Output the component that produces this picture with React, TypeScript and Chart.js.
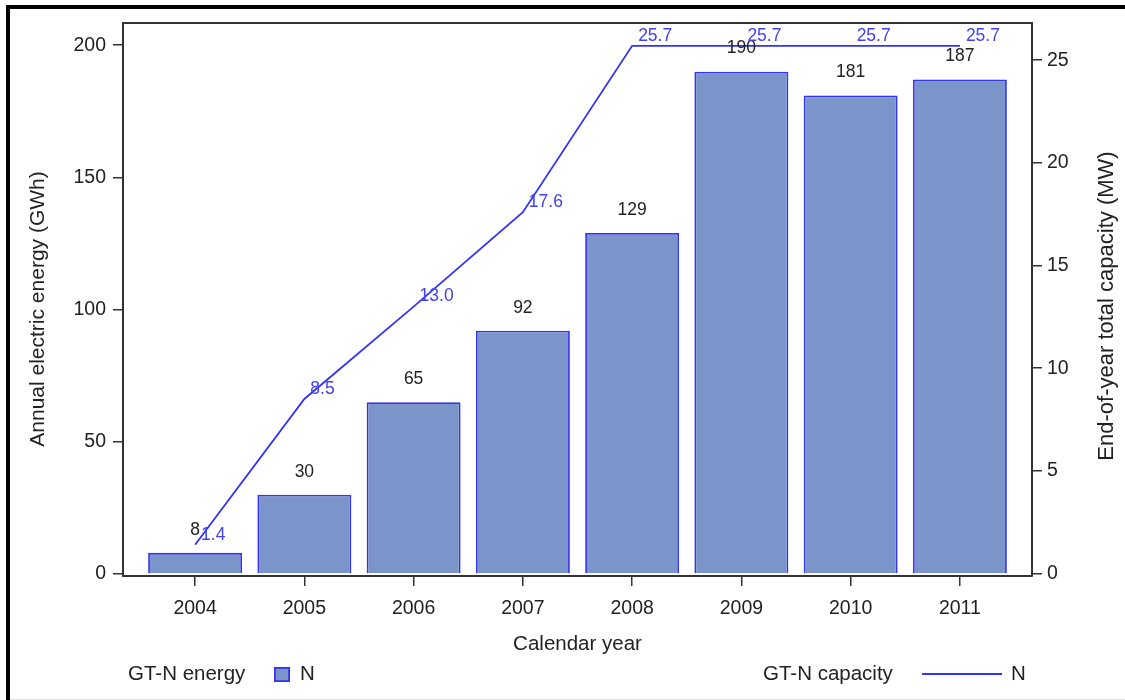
import React, { useEffect, useRef } from "react";
import { Chart, registerables } from "chart.js";

Chart.register(...registerables);

const years = [2004, 2005, 2006, 2007, 2008, 2009, 2010, 2011];
const energyGWh = [8, 30, 65, 92, 129, 190, 181, 187];
const capacityMW = [1.4, 8.5, 13.0, 17.6, 25.7, 25.7, 25.7, 25.7];
const energyTicks = [0, 50, 100, 150, 200];
const capacityTicks = [0, 5, 10, 15, 20, 25];

const FONT = "'Liberation Sans', Arial, sans-serif";
const BAR_FILL = "#7b95ca";
const BLUE = "#3333f5";
const LABEL_BLUE = "#4242ee";
const AXIS = "#333333";
const TEXT = "#222222";

const decorPlugin = {
  id: "decor",
  beforeDraw(chart: any) {
    const ctx = chart.ctx;
    ctx.save();
    ctx.fillStyle = "#ffffff";
    ctx.fillRect(0, 0, chart.width, chart.height);
    ctx.fillStyle = "#000000";
    ctx.fillRect(6, 5, chart.width - 6, 4);
    ctx.fillRect(6, 5, 4, chart.height - 5);
    ctx.fillStyle = "#dcdcdc";
    ctx.fillRect(10, chart.height - 1, chart.width - 10, 1);
    ctx.restore();
  },
  afterDraw(chart: any) {
    const ctx = chart.ctx;
    const a = chart.chartArea;
    ctx.save();
    ctx.strokeStyle = AXIS;
    ctx.lineWidth = 2;
    ctx.beginPath();
    ctx.moveTo(a.left - 1, a.top);
    ctx.lineTo(a.right + 1, a.top);
    ctx.stroke();
    ctx.restore();

    // vertical axis titles, both reading bottom to top
    ctx.save();
    ctx.fillStyle = TEXT;
    ctx.textAlign = "center";
    ctx.textBaseline = "middle";
    ctx.font = `21px ${FONT}`;
    ctx.translate(38, 309);
    ctx.rotate(-Math.PI / 2);
    ctx.fillText("Annual electric energy (GWh)", 0, 0);
    ctx.restore();

    ctx.save();
    ctx.fillStyle = TEXT;
    ctx.textAlign = "center";
    ctx.textBaseline = "middle";
    ctx.font = `22px ${FONT}`;
    ctx.translate(1107, 306);
    ctx.rotate(-Math.PI / 2);
    ctx.fillText("End-of-year total capacity (MW)", 0, 0);
    ctx.restore();

    // legend
    const barDs = chart.data.datasets[1];
    const lineDs = chart.data.datasets[0];
    const ly = 674;
    ctx.save();
    ctx.font = `20.5px ${FONT}`;
    ctx.fillStyle = TEXT;
    ctx.textBaseline = "middle";
    ctx.textAlign = "left";
    ctx.fillText("GT-N energy", 128, ly);
    ctx.fillStyle = barDs.backgroundColor;
    ctx.fillRect(274, 667, 16, 15);
    ctx.strokeStyle = barDs.borderColor;
    ctx.lineWidth = 1.8;
    ctx.strokeRect(274.9, 667.9, 14.2, 13.2);
    ctx.fillStyle = TEXT;
    ctx.fillText(barDs.label, 300, ly);
    ctx.fillText("GT-N capacity", 763, ly);
    ctx.strokeStyle = lineDs.borderColor;
    ctx.lineWidth = 1.8;
    ctx.beginPath();
    ctx.moveTo(922, ly);
    ctx.lineTo(1002, ly);
    ctx.stroke();
    ctx.fillText(lineDs.label, 1011, ly);
    ctx.restore();
  },
  afterDatasetsDraw(chart: any) {
    const ctx = chart.ctx;
    ctx.save();
    ctx.font = `17.5px ${FONT}`;
    ctx.textBaseline = "middle";
    const barMeta = chart.getDatasetMeta(1);
    ctx.fillStyle = TEXT;
    ctx.textAlign = "center";
    barMeta.data.forEach((el: any, i: number) => {
      ctx.fillText(String(energyGWh[i]), el.x, el.y - 23);
    });
    const lineMeta = chart.getDatasetMeta(0);
    ctx.fillStyle = LABEL_BLUE;
    ctx.textAlign = "left";
    lineMeta.data.forEach((pt: any, i: number) => {
      ctx.fillText(capacityMW[i].toFixed(1), pt.x + 6, pt.y - 10);
    });
    ctx.restore();
  },
};

export default function App() {
  const ref = useRef<HTMLCanvasElement | null>(null);

  useEffect(() => {
    if (!ref.current) return;
    const tickFont = { family: FONT, size: 19.5 };
    const chart = new Chart(ref.current, {
      type: "bar",
      data: {
        datasets: [
          {
            type: "line",
            label: "N",
            data: years.map((x, i) => ({ x, y: capacityMW[i] })),
            xAxisID: "x",
            yAxisID: "y1",
            borderColor: BLUE,
            backgroundColor: BLUE,
            borderWidth: 1.8,
            pointRadius: 0,
            tension: 0,
            fill: false,
          } as any,
          {
            type: "bar",
            label: "N",
            data: years.map((x, i) => ({ x, y: energyGWh[i] })),
            xAxisID: "x",
            yAxisID: "y",
            backgroundColor: BAR_FILL,
            borderColor: BLUE,
            borderWidth: 1.8,
            barPercentage: 0.86,
            categoryPercentage: 1,
          } as any,
        ],
      },
      options: {
        animation: false,
        responsive: false,
        layout: { padding: { top: 23, left: 0, right: 0, bottom: 0 } },
        plugins: {
          legend: { display: false },
          tooltip: { enabled: false },
        },
        scales: {
          x: {
            type: "linear",
            offset: false,
            min: 2003.34,
            max: 2011.66,
            afterBuildTicks: (s: any) => {
              s.ticks = years.map((v) => ({ value: v }));
            },
            afterFit: (s: any) => {
              s.height = 124;
            },
            ticks: {
              font: tickFont,
              color: TEXT,
              padding: 11,
              maxRotation: 0,
              autoSkip: false,
              callback: (v: any) => String(v),
            },
            grid: {
              offset: false,
              drawOnChartArea: false,
              drawTicks: true,
              tickLength: 10,
              color: AXIS,
              lineWidth: 1.5,
            },
            border: { display: true, color: AXIS, width: 2 },
            title: {
              display: true,
              text: "Calendar year",
              font: { family: FONT, size: 20.5 },
              color: TEXT,
              padding: { top: 0, bottom: 43 },
            },
          },
          y: {
            type: "linear",
            position: "left",
            min: -0.76,
            max: 208.4,
            afterBuildTicks: (s: any) => {
              s.ticks = energyTicks.map((v) => ({ value: v }));
            },
            afterFit: (s: any) => {
              s.width = 123;
            },
            ticks: { font: tickFont, color: TEXT, padding: 7 },
            grid: {
              drawOnChartArea: false,
              drawTicks: true,
              tickLength: 10,
              color: AXIS,
              lineWidth: 1.5,
            },
            border: { display: true, color: AXIS, width: 2 },
          },
          y1: {
            type: "linear",
            position: "right",
            min: -0.12,
            max: 26.81,
            afterBuildTicks: (s: any) => {
              s.ticks = capacityTicks.map((v) => ({ value: v }));
            },
            afterFit: (s: any) => {
              s.width = 93;
            },
            ticks: { font: tickFont, color: TEXT, padding: 5 },
            grid: {
              drawOnChartArea: false,
              drawTicks: true,
              tickLength: 10,
              color: AXIS,
              lineWidth: 1.5,
            },
            border: { display: true, color: AXIS, width: 2 },
          },
        },
      } as any,
      plugins: [decorPlugin],
    });
    return () => chart.destroy();
  }, []);

  return (
    <div style={{ position: "absolute", left: 0, top: 0, width: 1125, height: 700 }}>
      <canvas ref={ref} width={1125} height={700} style={{ display: "block", width: 1125, height: 700 }} />
    </div>
  );
}
